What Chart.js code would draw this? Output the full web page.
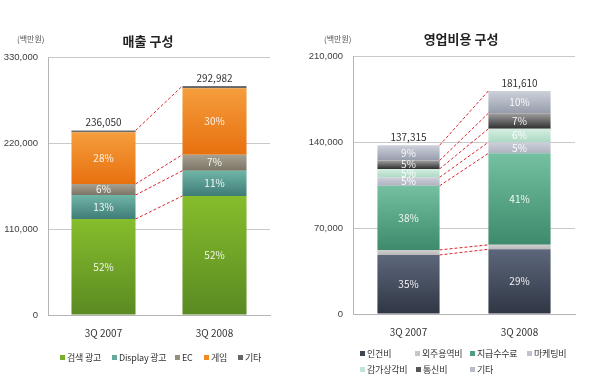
<!DOCTYPE html>
<html><head><meta charset="utf-8">
<script src="https://cdn.jsdelivr.net/npm/chart.js@4"></script>
<style>
body{margin:0;width:600px;height:389px;background:#fff;position:relative;overflow:hidden;font-family:"Noto Sans CJK KR","Noto Sans",sans-serif;}
.pane{position:absolute;top:0;width:300px;height:389px;}
.t{position:absolute;white-space:nowrap;color:#222;}
.title{font-size:13px;font-weight:bold;transform:translateX(-50%);}
.unit{font-size:8px;color:#555;}
.lg{position:absolute;font-size:9px;color:#333;white-space:nowrap;line-height:12px;letter-spacing:-0.2px;}
.lg i{display:inline-block;width:5px;height:5px;margin-right:2px;vertical-align:1px;}
</style></head>
<body>
<div class="pane" style="left:0"><canvas id="c1" width="300" height="389"></canvas></div>
<div class="pane" style="left:300px"><canvas id="c2" width="300" height="389"></canvas></div>
<div class="t title" style="left:148px;top:31px">매출 구성</div>
<div class="t unit" style="left:17px;top:33px">(백만원)</div>
<div class="t title" style="left:461px;top:29px">영업비용 구성</div>
<div class="t unit" style="left:324px;top:33px">(백만원)</div>
<script>
// ---- data ----
const categories = ['3Q 2007', '3Q 2008'];

const revSeries = ['검색 광고', 'Display 광고', 'EC', '게임', '기타'];
const revSearch  = [122746, 152350];
const revDisplay = [30687, 32228];
const revEC      = [14163, 20509];
const revGame    = [66094, 85000];
const revEtc     = [2360, 2895];
const revPct = [['52%','52%'], ['13%','11%'], ['6%','7%'], ['28%','30%'], ['','']];
const revTicks = [0, 110000, 220000, 330000];

const costSeries = ['인건비', '외주용역비', '지급수수료', '마케팅비', '감가상각비', '통신비', '기타'];
const costLabor     = [48060, 52667];
const costOutsource = [4120, 3632];
const costFees      = [52180, 74460];
const costMarketing = [6866, 9080];
const costDeprec    = [6866, 10897];
const costComm      = [6866, 12713];
const costEtc       = [12357, 18161];
const costPct = [['35%','29%'], ['',''], ['38%','41%'], ['5%','5%'], ['5%','6%'], ['5%','7%'], ['9%','10%']];
const costTicks = [0, 70000, 140000, 210000];

// ---- styles ----
const revColors = [['#86bd2c','#5a8a22'], ['#70b5a6','#3f7c77'], ['#a6a190','#7a7566'], ['#f59d3c','#e8700f'], ['#777777','#5e5e5e']];
const revLegend = ['#78ad2e','#62aa9a','#948f7f','#f08a24','#666666'];
const costColors = [['#5d677b','#2f3644'], ['#cfcfcf','#b9b9b9'], ['#74c0a0','#3d8b6c'], ['#cdd0da','#adb2bf'], ['#d6eee3','#acd9c3'], ['#a0a0a0','#2f2f2f'], ['#cdd1da','#969cab']];
const costLegend = ['#3f4656','#c6c6c6','#4f9e80','#c0c3ce','#c2e4d4','#555555','#b8bcc6'];

const fmt = v => v.toLocaleString('en-US');

function gradFor(colors) {
  return function (ctx) {
    const chart = ctx.chart;
    const pair = colors[ctx.datasetIndex];
    if (!chart.chartArea || ctx.dataIndex === undefined) return pair[1];
    const ys = chart.scales.y;
    let start = 0;
    for (let k = 0; k < ctx.datasetIndex; k++) start += chart.data.datasets[k].data[ctx.dataIndex];
    const end = start + chart.data.datasets[ctx.datasetIndex].data[ctx.dataIndex];
    const y0 = ys.getPixelForValue(end), y1 = ys.getPixelForValue(start);
    if (!isFinite(y0) || !isFinite(y1) || y1 - y0 < 0.5) return pair[1];
    const g = chart.ctx.createLinearGradient(0, y0, 0, y1);
    g.addColorStop(0, pair[0]); g.addColorStop(1, pair[1]);
    return g;
  };
}

function overlayPlugin(links, pcts) {
  return {
    id: 'overlay',
    afterDatasetsDraw(chart) {
      const c = chart.ctx, n = chart.data.datasets.length;
      c.save();
      c.setLineDash([3, 2]); c.strokeStyle = '#d8262c'; c.lineWidth = 1;
      links.forEach(di => {
        const m = chart.getDatasetMeta(di), a = m.data[0], b = m.data[1];
        c.beginPath(); c.moveTo(a.x + a.width / 2, a.y); c.lineTo(b.x - b.width / 2, b.y); c.stroke();
      });
      c.setLineDash([]);
      c.textAlign = 'center'; c.textBaseline = 'middle';
      c.font = '10px "Noto Sans CJK KR", sans-serif';
      c.fillStyle = 'rgba(255,255,255,0.92)';
      for (let d = 0; d < n; d++) {
        const m = chart.getDatasetMeta(d);
        m.data.forEach((el, i) => {
          const t = pcts[d][i];
          if (t) c.fillText(t, el.x, (el.y + el.base) / 2);
        });
      }
      c.fillStyle = '#333';
      const top = chart.getDatasetMeta(n - 1);
      top.data.forEach((el, i) => {
        let s = 0; chart.data.datasets.forEach(ds => s += ds.data[i]);
        c.fillText(fmt(s), el.x, el.y - 8);
      });
      c.restore();
    }
  };
}

function makeChart(id, series, values, colors, pcts, ticks, links, pad, yW, xH, barPct) {
  const grad = gradFor(colors);
  return new Chart(document.getElementById(id), {
    type: 'bar',
    data: {
      labels: categories,
      datasets: series.map((s, i) => ({
        label: s, data: values[i], backgroundColor: grad, borderWidth: 0,
        barPercentage: barPct, categoryPercentage: 1
      }))
    },
    options: {
      responsive: false, animation: false,
      layout: { padding: pad },
      plugins: { legend: { display: false }, tooltip: { enabled: false } },
      scales: {
        x: {
          stacked: true,
          grid: { display: false },
          border: { display: true, color: '#b5b5b5' },
          ticks: { color: '#333', font: { size: 10, family: '"Noto Sans CJK KR", sans-serif' }, padding: 4 },
          afterFit: s => { s.height = xH; }
        },
        y: {
          stacked: true, min: ticks[0], max: ticks[ticks.length - 1],
          afterBuildTicks: s => { s.ticks = ticks.map(v => ({ value: v })); },
          grid: { color: '#c9c9c9', drawTicks: false },
          border: { display: true, color: '#b5b5b5' },
          ticks: { color: '#404040', font: { size: 9.5, family: '"Liberation Sans", sans-serif' }, padding: 10, callback: v => fmt(v) },
          afterFit: s => { s.width = yW; }
        }
      }
    },
    plugins: [overlayPlugin(links, pcts)]
  });
}

makeChart('c1', revSeries, [revSearch, revDisplay, revEC, revGame, revEtc], revColors, revPct, revTicks,
  [0, 1, 2, 4], { top: 57, right: 30, left: 0, bottom: 0 }, 48, 74, 0.577);
makeChart('c2', costSeries, [costLabor, costOutsource, costFees, costMarketing, costDeprec, costComm, costEtc], costColors, costPct, costTicks,
  [0, 1, 2, 3, 4, 5, 6], { top: 56, right: 25, left: 0, bottom: 0 }, 53, 75, 0.56);

// ---- legends ----
function legend(items, cols, pos) {
  items.forEach((name, i) => {
    const p = pos[i];
    const d = document.createElement('div');
    d.className = 'lg';
    d.style.left = p[0] + 'px'; d.style.top = p[1] + 'px';
    d.innerHTML = '<i style="background:' + cols[i] + '"></i>' + name;
    document.body.appendChild(d);
  });
}
legend(revSeries, revLegend, [[60,352],[112,352],[175,352],[204,352],[238,352]]);
legend(costSeries, costLegend, [[360,348],[415,348],[470,348],[527,348],[360,364],[416,364],[470,364]]);
</script>
</body></html>
